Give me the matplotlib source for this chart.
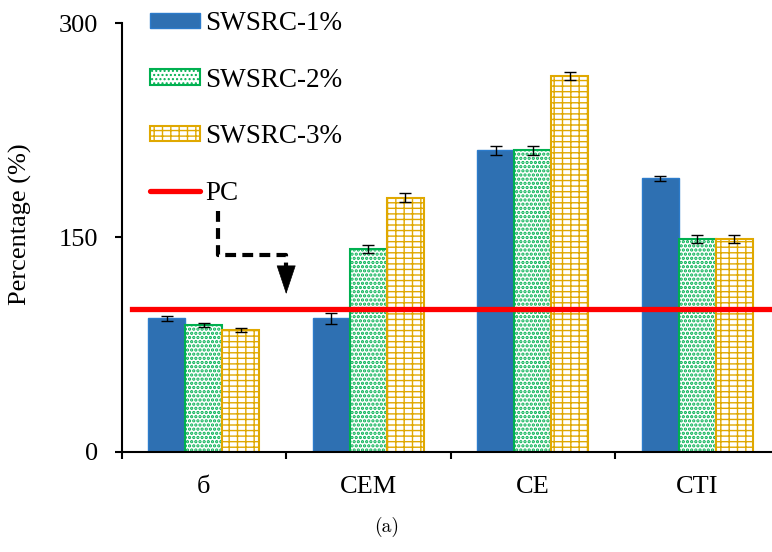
import matplotlib

matplotlib.use("Agg")
import matplotlib.pyplot as plt
import numpy as np
from matplotlib.lines import Line2D
from matplotlib.patches import Patch

categories = ["б", "CEM", "CE", "CTI"]
swsrc_1 = [93.5, 93.5, 211.0, 191.5]
swsrc_1_err = [1.9, 4.0, 3.0, 1.7]
swsrc_2 = [88.8, 142.0, 211.0, 148.7]
swsrc_2_err = [1.4, 3.0, 3.0, 2.7]
swsrc_3 = [85.3, 177.8, 263.0, 148.7]
swsrc_3_err = [1.4, 3.3, 3.0, 2.7]
series_labels = ["SWSRC-1%", "SWSRC-2%", "SWSRC-3%"]
pc_level = 100
pc_label = "PC"
y_ticks = [0, 150, 300]

plt.rcParams["font.family"] = ["Liberation Serif", "DejaVu Serif"]
plt.rcParams["hatch.linewidth"] = 1.0

BLUE, BLUE_EDGE = "#2E70B2", "#2C7BCB"
GREEN, GOLD = "#00B050", "#E0A800"
DOTS, BRICKS = "....", "---||"

fig = plt.figure(figsize=(7.72, 5.52), dpi=100)
ax = fig.add_axes([0.1576, 0.1812, 1.0 - 0.1576, 0.9583 - 0.1812])

x = np.arange(len(categories))
width = 0.225
err_kw = dict(ecolor="black", elinewidth=1.0, capsize=4, capthick=1.0)

ax.bar(x - width, swsrc_1, width, yerr=swsrc_1_err, color=BLUE,
       edgecolor=BLUE_EDGE, linewidth=1.0, error_kw=err_kw, zorder=2)
with plt.rc_context({"hatch.linewidth": 1.6}):
    ax.bar(x, swsrc_2, width, yerr=swsrc_2_err, color="white",
           edgecolor=GREEN, linewidth=1.5, hatch=DOTS, error_kw=err_kw, zorder=2)
ax.bar(x + width, swsrc_3, width, yerr=swsrc_3_err, color="white",
       edgecolor=GOLD, linewidth=1.5, hatch=BRICKS, error_kw=err_kw, zorder=2)

# PC reference line
ax.axhline(pc_level, xmin=0.016, xmax=1.0, color="#FF0000", linewidth=3.8, zorder=3)

# dashed pointer from the legend down to the PC line
ax.plot([0.085, 0.085, 0.5, 0.5], [168.5, 137.8, 137.8, 127], color="black",
        linestyle=(0, (2.6, 1.5)), linewidth=3.0, solid_capstyle="butt", zorder=4)
ax.annotate("", xy=(0.5, 108.5), xytext=(0.5, 128),
            arrowprops=dict(arrowstyle="-|>,head_length=1.5,head_width=0.5",
                            mutation_scale=13, color="black", linewidth=0.5))

ax.set_xlim(-0.5, 3.453)
ax.set_ylim(0, 300)
ax.set_yticks(y_ticks)
ax.set_xticks(np.arange(-0.5, len(categories) - 0.5, 1.0))
ax.set_xticklabels([])
ax.set_xticks(x, minor=True)
ax.set_xticklabels(categories, minor=True)
ax.tick_params(axis="x", which="major", direction="out", length=5, width=1.5)
ax.tick_params(axis="x", which="minor", length=0, pad=17, labelsize=19)
ax.tick_params(axis="y", direction="out", length=5, width=1.5, pad=12, labelsize=19)

for side in ("top", "right"):
    ax.spines[side].set_visible(False)
for side in ("left", "bottom"):
    ax.spines[side].set_linewidth(1.5)

ax.set_ylabel("Percentage (%)", fontsize=19)
ax.yaxis.set_label_coords(-0.138, 0.53)

with plt.rc_context({"hatch.linewidth": 1.6}):
    green_handle = Patch(facecolor="white", edgecolor=GREEN, linewidth=1.5, hatch=DOTS)
handles = [
    Patch(facecolor=BLUE, edgecolor=BLUE_EDGE, linewidth=1.0),
    green_handle,
    Patch(facecolor="white", edgecolor=GOLD, linewidth=1.5, hatch=BRICKS),
    Line2D([], [], color="#FF0000", linewidth=3.8, solid_capstyle="round"),
]
fig.legend(handles, series_labels + [pc_label], loc="upper left",
           bbox_to_anchor=(150 / 772, 1 - 11 / 552), frameon=False, fontsize=19.5,
           handlelength=1.85, handleheight=0.5, handletextpad=0.2,
           labelspacing=1.17, borderpad=0, borderaxespad=0)

fig.text(387 / 772, 1 - 527 / 552, "(a)", family="cmr10", fontsize=14,
         ha="center", va="center")

fig.savefig("out.png", dpi=100)
